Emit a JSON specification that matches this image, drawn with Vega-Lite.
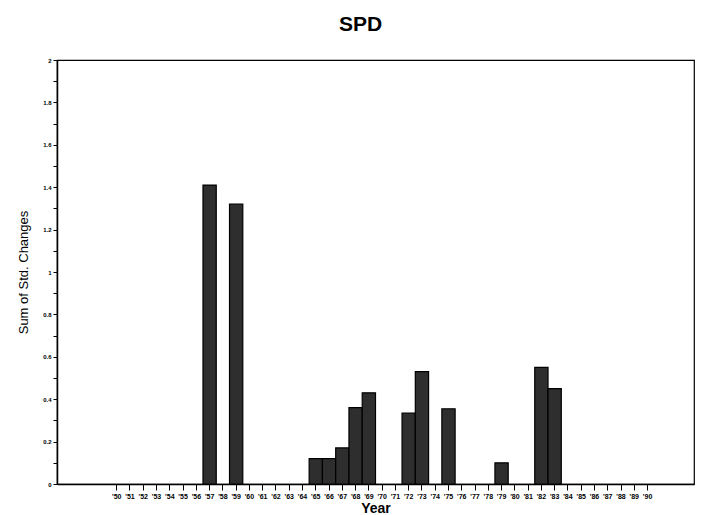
{
  "$schema": "https://vega.github.io/schema/vega-lite/v6.json",
  "autosize": "none",
  "width": 637,
  "height": 424,
  "padding": {"left": 57, "top": 60, "right": 7, "bottom": 31},
  "background": "white",
  "title": {"text": "SPD", "font": "Liberation Sans", "fontSize": 21, "fontWeight": "bold", "color": "#000", "offset": 22, "anchor": "middle", "dx": -15},
  "config": {
    "view": {"stroke": "#000", "strokeWidth": 1.2},
    "axis": {"domainColor": "#000", "tickColor": "#000", "labelColor": "#000", "titleColor": "#000", "grid": false, "labelFont": "Liberation Sans", "titleFont": "Liberation Sans"}
  },
  "data": {
    "values": [
      {"year": 1957, "value": 1.41},
      {"year": 1959, "value": 1.32},
      {"year": 1965, "value": 0.12},
      {"year": 1966, "value": 0.12},
      {"year": 1967, "value": 0.17},
      {"year": 1968, "value": 0.36},
      {"year": 1969, "value": 0.43},
      {"year": 1972, "value": 0.335},
      {"year": 1973, "value": 0.53},
      {"year": 1975, "value": 0.355},
      {"year": 1979, "value": 0.10},
      {"year": 1982, "value": 0.55},
      {"year": 1983, "value": 0.45}
    ]
  },
  "mark": {"type": "bar", "fill": "#2e2e2e", "stroke": "#000", "strokeWidth": 1.2},
  "encoding": {
    "x": {
      "field": "year",
      "type": "ordinal",
      "scale": {
        "domain": [1946,1947,1948,1949,1950,1951,1952,1953,1954,1955,1956,1957,1958,1959,1960,1961,1962,1963,1964,1965,1966,1967,1968,1969,1970,1971,1972,1973,1974,1975,1976,1977,1978,1979,1980,1981,1982,1983,1984,1985,1986,1987,1988,1989,1990,1991,1992,1993],
        "paddingInner": 0,
        "paddingOuter": 0
      },
      "axis": {
        "title": "Year",
        "titleFontSize": 14,
        "titleFontWeight": "bold",
        "titlePadding": 2,
        "values": [1950,1951,1952,1953,1954,1955,1956,1957,1958,1959,1960,1961,1962,1963,1964,1965,1966,1967,1968,1969,1970,1971,1972,1973,1974,1975,1976,1977,1978,1979,1980,1981,1982,1983,1984,1985,1986,1987,1988,1989,1990],
        "labelExpr": "\"'\" + substring(toString(datum.value), 2)",
        "labelAngle": 0,
        "labelFontSize": 7,
        "labelFontWeight": "bold",
        "labelPadding": 2,
        "tickSize": 6,
        "domainWidth": 1.5
      }
    },
    "y": {
      "field": "value",
      "type": "quantitative",
      "scale": {"domain": [0, 2], "nice": false},
      "axis": {
        "title": "Sum of Std. Changes",
        "titleFontSize": 13,
        "titleFontWeight": "normal",
        "titlePadding": 12,
        "values": [0,0.1,0.2,0.3,0.4,0.5,0.6,0.7,0.8,0.9,1,1.1,1.2,1.3,1.4,1.5,1.6,1.7,1.8,1.9,2],
        "labelExpr": "(round(datum.value*10) % 2 == 0) ? format(datum.value, '~g') : ''",
        "labelFontSize": 6,
        "labelFontWeight": "bold",
        "labelPadding": 2,
        "tickSize": 4,
        "domainWidth": 1.5
      }
    }
  }
}
